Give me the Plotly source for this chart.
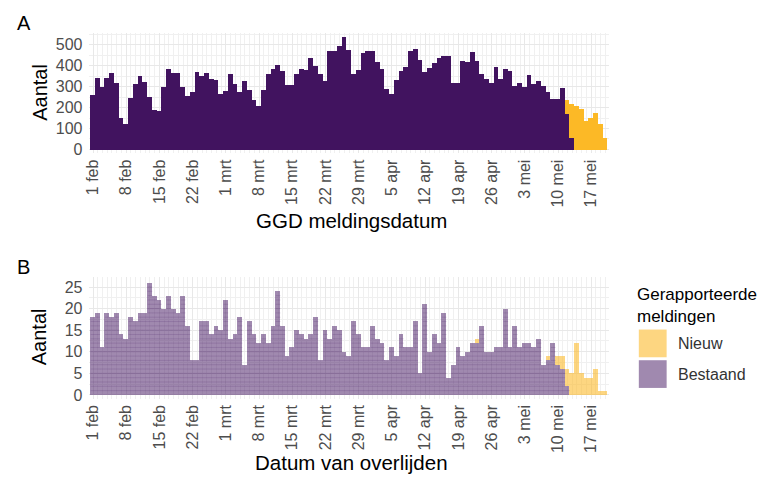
import plotly.graph_objects as go
import pandas as pd

# ---------------- data ----------------
start_date = "2021-02-01"
n_days = 109
dates = pd.date_range(start_date, periods=n_days, freq="D")

# Panel A: GGD meldingsdatum (counts per day)
a_bestaand = [260, 345, 300, 344, 369, 320, 153, 123, 246, 315, 353, 325, 252, 192, 186, 300,
              386, 366, 367, 300, 257, 274, 372, 353, 366, 337, 334, 265, 282, 360, 312, 278,
              331, 287, 237, 208, 284, 360, 385, 407, 375, 311, 308, 360, 386, 382, 437, 402,
              363, 331, 470, 470, 494, 539, 478, 363, 383, 462, 470, 470, 418, 386, 292, 268,
              334, 375, 394, 470, 481, 429, 372, 390, 415, 437, 448, 448, 320, 320, 426, 421,
              468, 423, 363, 337, 320, 397, 336, 386, 378, 304, 319, 300, 356, 312, 331, 303,
              276, 241, 241, 295, 170, 55, 0, 0, 0, 0, 0, 0, 0]
a_nieuw = [0] * 100 + [67, 166, 208, 196, 139, 153, 178, 123, 58]

# Panel B: Datum van overlijden (counts per day)
b_bestaand = [18, 19, 11, 19, 18, 19, 14, 13, 18, 17, 19, 19, 26, 23, 22, 20,
              23, 20, 19, 23, 16, 8, 8, 17, 17, 14, 16, 15, 22, 13, 14, 18,
              7, 17, 14, 12, 14, 12, 16, 24, 16, 9, 11, 15, 14, 13, 14, 18,
              8, 15, 13, 16, 15, 10, 9, 17, 14, 11, 11, 16, 13, 12, 8, 11,
              9, 14, 11, 11, 17, 5, 21, 10, 14, 12, 19, 4, 7, 11, 9, 10,
              12, 12, 16, 10, 10, 11, 11, 20, 11, 16, 11, 12, 12, 11, 13, 7,
              8, 12, 7, 6, 2, 0, 0, 0, 0, 0, 0, 0, 0]
b_nieuw = [0] * 81 + [1] + [0] * 14 + [1, 0, 2, 3, 4, 5, 12, 5, 4, 4, 6, 1, 1]

tick_labels = ["1 feb", "8 feb", "15 feb", "22 feb", "1 mrt", "8 mrt", "15 mrt", "22 mrt",
               "29 mrt", "5 apr", "12 apr", "19 apr", "26 apr", "3 mei", "10 mei", "17 mei"]
tick_dates = pd.date_range(start_date, periods=len(tick_labels), freq="7D")

# ---------------- style ----------------
PURPLE = "#41135F"
YELLOW = "#FCB926"
PURPLE_L = "rgba(65,19,95,0.5)"
YELLOW_L = "rgba(252,185,38,0.58)"
FONT = "Liberation Sans, Arial, sans-serif"
TICK_C = "#4D4D4D"
GRID_MAJ = "#E8E8E8"
GRID_MIN = "#F0F0F0"

fig = go.Figure()

fig.add_trace(go.Bar(x=dates, y=a_bestaand, marker=dict(color=PURPLE, line=dict(width=0)),
                     xaxis="x", yaxis="y", showlegend=False, name="Bestaand"))
fig.add_trace(go.Bar(x=dates, y=a_nieuw, marker=dict(color=YELLOW, line=dict(width=0)),
                     xaxis="x", yaxis="y", showlegend=False, name="Nieuw"))

fig.add_trace(go.Bar(x=dates, y=b_bestaand, marker=dict(color=PURPLE_L, line=dict(width=0)),
                     xaxis="x2", yaxis="y2", showlegend=False, name="Bestaand"))
fig.add_trace(go.Bar(x=dates, y=b_nieuw, marker=dict(color=YELLOW_L, line=dict(width=0)),
                     xaxis="x2", yaxis="y2", showlegend=False, name="Nieuw"))

# unit separators inside panel B bars (stacked individual records)
half = pd.Timedelta(hours=12)
lx, ly = [], []
for d, v in zip(dates, b_bestaand):
    for j in range(1, v):
        lx += [d - half, d + half, None]
        ly += [j, j, None]
fig.add_trace(go.Scatter(x=lx, y=ly, mode="lines", xaxis="x2", yaxis="y2",
                         line=dict(color="rgba(65,19,95,0.22)", width=0.7),
                         hoverinfo="skip", showlegend=False))

xr = [pd.Timestamp("2021-01-31 06:00"), pd.Timestamp("2021-05-20 18:00")]
xdom = [85 / 764, 608 / 764]

def xaxis_cfg():
    return dict(domain=xdom, range=xr, type="date",
                tickmode="array", tickvals=tick_dates, ticktext=tick_labels,
                tickangle=-90, tickfont=dict(family=FONT, size=16, color=TICK_C),
                showgrid=True, gridcolor=GRID_MAJ, gridwidth=1.2,
                minor=dict(tickmode="linear", tick0=start_date, dtick=86400000,
                           showgrid=True, gridcolor=GRID_MIN, gridwidth=0.8),
                zeroline=False, showline=False, ticks="", ticklabelstandoff=2)

def yaxis_cfg(dom, rng, dtick, anchor):
    return dict(domain=dom, range=rng, anchor=anchor, dtick=dtick, tick0=0,
                tickfont=dict(family=FONT, size=16, color=TICK_C),
                showgrid=True, gridcolor=GRID_MAJ, gridwidth=1.2,
                minor=dict(dtick=dtick / 2, tick0=0, showgrid=True,
                           gridcolor=GRID_MIN, gridwidth=0.8),
                zeroline=False, showline=False, ticks="", ticklabelstandoff=6)

fig.update_layout(
    width=764, height=482,
    margin=dict(l=0, r=0, t=0, b=0),
    paper_bgcolor="white", plot_bgcolor="white",
    barmode="stack", bargap=0,
    showlegend=False,
    font=dict(family=FONT),
    xaxis=dict(anchor="y", **xaxis_cfg()),
    yaxis=yaxis_cfg([1 - 155 / 482, 1 - 33 / 482], [-19, 558], 100, "x"),
    xaxis2=dict(anchor="y2", **xaxis_cfg()),
    yaxis2=yaxis_cfg([1 - 403 / 482, 1 - 280 / 482], [-0.9, 27.3], 5, "x2"),
)

def px(x):
    return x / 764

def py(y):
    return 1 - y / 482

ann = [
    dict(text="A", x=px(10), y=py(10), xanchor="left", yanchor="top", font=dict(size=20, color="black")),
    dict(text="B", x=px(10), y=py(257), xanchor="left", yanchor="top", font=dict(size=20, color="black")),
    dict(text="Aantal", x=px(35), y=py(93), textangle=-90, xanchor="center", yanchor="middle",
         font=dict(size=20, color="black")),
    dict(text="Aantal", x=px(35), y=py(340), textangle=-90, xanchor="center", yanchor="middle",
         font=dict(size=20, color="black")),
    dict(text="GGD meldingsdatum", x=px(349), y=py(223), xanchor="center", yanchor="middle",
         font=dict(size=20.5, color="black")),
    dict(text="Datum van overlijden", x=px(349), y=py(467), xanchor="center", yanchor="middle",
         font=dict(size=20.5, color="black")),
    dict(text="Gerapporteerde<br>meldingen", x=px(634), y=py(286), xanchor="left", yanchor="top",
         align="left", font=dict(size=17, color="black")),
    dict(text="Nieuw", x=px(675), y=py(347), xanchor="left", yanchor="middle",
         font=dict(size=16, color="#333333")),
    dict(text="Bestaand", x=px(675), y=py(378), xanchor="left", yanchor="middle",
         font=dict(size=16, color="#333333")),
]
for a in ann:
    a.update(xref="paper", yref="paper", showarrow=False)
    a["font"]["family"] = FONT
fig.update_layout(annotations=ann)

fig.update_layout(shapes=[
    dict(type="rect", xref="paper", yref="paper", x0=px(638), x1=px(666), y0=py(361), y1=py(333),
         fillcolor=YELLOW_L, line=dict(width=0)),
    dict(type="rect", xref="paper", yref="paper", x0=px(638), x1=px(666), y0=py(392), y1=py(364),
         fillcolor=PURPLE_L, line=dict(width=0)),
])

fig.write_html("out.html", config={"displayModeBar": False},
               post_script="document.body.style.margin='0px';")
